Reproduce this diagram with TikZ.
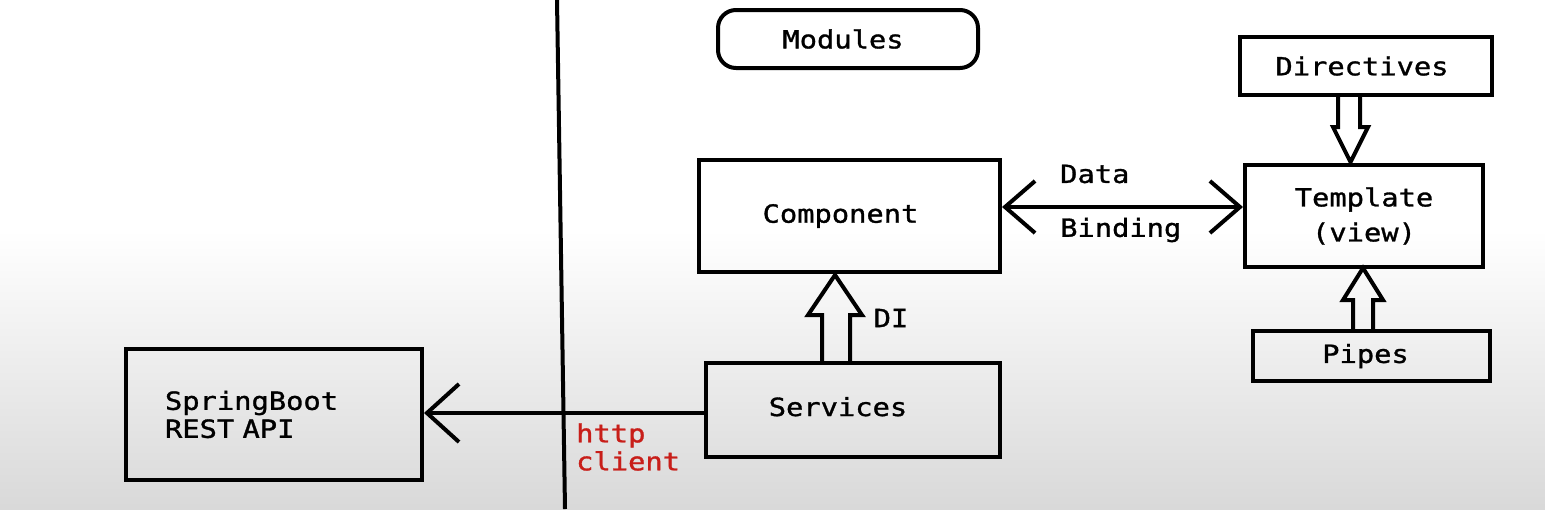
\documentclass[tikz,border=0pt]{standalone}
\usepackage{fontspec}
\newfontfamily\diagfont[FakeStretch=1.15, FakeBold=1.2, WordSpace={1.15,0,0}]{DejaVu Sans Mono}
\usetikzlibrary{arrows.meta}
\usetikzlibrary{calc}

\definecolor{httpred}{RGB}{200,30,25}

\tikzset{
	box/.style={draw, line width=4pt, inner sep=0pt, align=center},
	lbl/.style={inner sep=0pt},
	conn/.style={line width=4pt, {Straight Barb[length=32pt,width=58pt]}-},
	conntwo/.style={line width=4pt, {Straight Barb[length=30pt,width=52pt]}-{Straight Barb[length=30pt,width=52pt]}},
	hollow/.style={line width=4pt, line join=miter}
}

\begin{document}
\begin{tikzpicture}[x=1pt, y=-1pt, font=\diagfont\fontsize{25}{28}\selectfont]

	%background, white on top and fading to grey below
	\useasboundingbox (0,0) rectangle (1545,509);
	\fill[white] (0,0) rectangle (1545,232);
	\shade[top color=white, bottom color=gray!30] (0,230) rectangle (1545,509);

	%dividing line between server side and client side
	\coordinate (divTop) at (557,0);
	\coordinate (divBottom) at (565,509);
	\draw[line width=4pt] (divTop) -- (divBottom);

	%client side boxes
	\node[box, minimum width=260pt, minimum height=58pt, rounded corners=18pt] (modules) at (848,39) {Modules\hspace*{10pt}};
	\node[box, minimum width=301pt, minimum height=112pt] (component) at (849.5,216) {\raisebox{3pt}{Component}\hspace*{18pt}};
	\node[box, minimum width=294pt, minimum height=94pt] (services) at (853,410) {\raisebox{7pt}{Services}\hspace*{30pt}};
	\node[box, minimum width=238pt, minimum height=102pt] (template) at (1364,216) {\raisebox{-3pt}{Template}\\[10pt](view)};
	\node[box, minimum width=252pt, minimum height=58pt] (directives) at (1366,66) {Directives\hspace*{8pt}};
	\node[box, minimum width=237pt, minimum height=50pt] (pipes) at (1371.5,356) {Pipes\hspace*{12pt}};

	%server side box
	\node[box, minimum height=131pt, inner xsep=39pt, text width=218pt, align=left] (springboot) at (274,414.5) {SpringBoot\\REST API};

	%data binding between component and template
	\draw[conntwo] ([yshift=9pt]component.east) -- ([yshift=9pt]template.west);
	\node[lbl, anchor=west] (data) at (1060,174) {Data};
	\node[lbl, anchor=west] (binding) at (1060,230) {Binding};

	%http call from services to the REST API
	\draw[conn] ([yshift=-3pt]services.west -| springboot.east) -- ([yshift=-3pt]services.west);
	\node[lbl, anchor=west, align=left, text=httpred] (http) at (576,447) {http\\client};

	%hollow arrows
	%DI, services up to component
	\draw[hollow] (822,361) -- (822,315) -- (808,315) -- (835,275) -- (862,315) -- (850,315) -- (850,361);
	\node[lbl] (di) at (891,318) {DI};
	%directives down to template
	\draw[hollow] (1338,95) -- (1338,127) -- (1333,127) -- (1350.5,162) -- (1368,127) -- (1360,127) -- (1360,95);
	%pipes up to template
	\draw[hollow] (1353,331) -- (1353,300) -- (1343,300) -- (1363,268) -- (1383,300) -- (1373,300) -- (1373,331);

\end{tikzpicture}
\end{document}
